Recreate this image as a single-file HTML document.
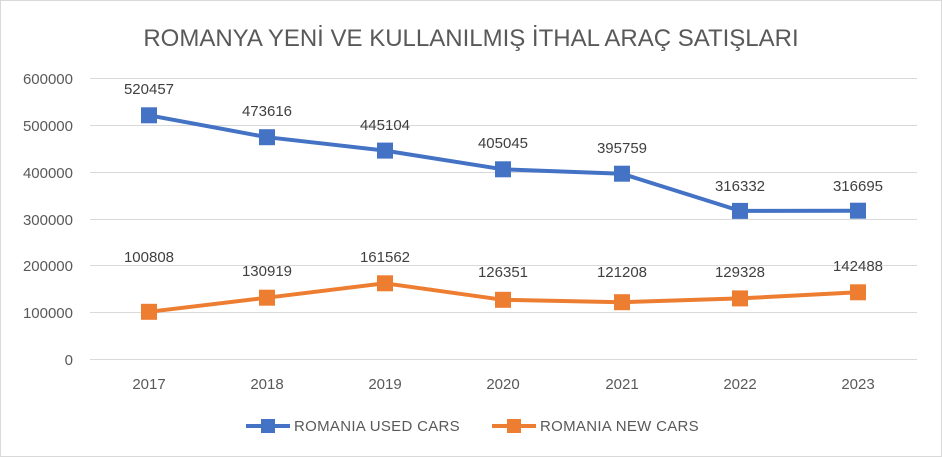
<!DOCTYPE html>
<html><head><meta charset="utf-8"><style>
html,body{margin:0;padding:0;background:#fff;}
svg{display:block;font-family:"Liberation Sans",sans-serif;}
</style></head><body>
<svg width="942" height="457" viewBox="0 0 942 457">
<rect x="0.5" y="0.5" width="941" height="456" fill="#fff" stroke="#d9d9d9"/>
<text x="471" y="46" text-anchor="middle" font-size="24" fill="#595959">ROMANYA YENİ VE KULLANILMIŞ İTHAL ARAÇ SATIŞLARI</text>
<g stroke="#d9d9d9" stroke-width="1">
<line x1="90" x2="917" y1="78.5" y2="78.5"/>
<line x1="90" x2="917" y1="125.5" y2="125.5"/>
<line x1="90" x2="917" y1="172.5" y2="172.5"/>
<line x1="90" x2="917" y1="219.5" y2="219.5"/>
<line x1="90" x2="917" y1="265.5" y2="265.5"/>
<line x1="90" x2="917" y1="312.5" y2="312.5"/>
<line x1="90" x2="917" y1="359.5" y2="359.5"/>
</g>
<g font-size="15" fill="#595959" text-anchor="end">
<text x="73" y="84">600000</text>
<text x="73" y="131">500000</text>
<text x="73" y="178">400000</text>
<text x="73" y="225">300000</text>
<text x="73" y="271">200000</text>
<text x="73" y="318">100000</text>
<text x="73" y="365">0</text>
</g>
<g font-size="15" fill="#595959" text-anchor="middle">
<text x="149" y="389">2017</text><text x="267" y="389">2018</text><text x="385" y="389">2019</text>
<text x="503" y="389">2020</text><text x="622" y="389">2021</text><text x="740" y="389">2022</text><text x="858" y="389">2023</text>
</g>
<polyline fill="none" stroke="#4472c4" stroke-width="4" stroke-linejoin="round" points="149,115.3 267,137.2 385,150.6 503,169.3 622,173.7 740,210.9 858,210.7"/>
<polyline fill="none" stroke="#ed7d31" stroke-width="4" stroke-linejoin="round" points="149,311.8 267,297.7 385,283.3 503,299.8 622,302.2 740,298.4 858,292.3"/>
<g fill="#4472c4">
<rect x="141" y="107.3" width="16" height="16"/><rect x="259" y="129.2" width="16" height="16"/><rect x="377" y="142.6" width="16" height="16"/>
<rect x="495" y="161.3" width="16" height="16"/><rect x="614" y="165.7" width="16" height="16"/><rect x="732" y="202.9" width="16" height="16"/><rect x="850" y="202.7" width="16" height="16"/>
</g>
<g fill="#ed7d31">
<rect x="141" y="303.8" width="16" height="16"/><rect x="259" y="289.7" width="16" height="16"/><rect x="377" y="275.3" width="16" height="16"/>
<rect x="495" y="291.8" width="16" height="16"/><rect x="614" y="294.2" width="16" height="16"/><rect x="732" y="290.4" width="16" height="16"/><rect x="850" y="284.3" width="16" height="16"/>
</g>
<g font-size="15" fill="#404040" text-anchor="middle">
<text x="149" y="94">520457</text><text x="267" y="116">473616</text><text x="385" y="130">445104</text>
<text x="503" y="148">405045</text><text x="622" y="153">395759</text><text x="740" y="191">316332</text><text x="858" y="191">316695</text>
<text x="149" y="262">100808</text><text x="267" y="276">130919</text><text x="385" y="262">161562</text>
<text x="503" y="277">126351</text><text x="622" y="277">121208</text><text x="740" y="277">129328</text><text x="858" y="271">142488</text>
</g>
<line x1="246" x2="290" y1="426" y2="426" stroke="#4472c4" stroke-width="4"/>
<rect x="261" y="419" width="14" height="14" fill="#4472c4"/>
<text x="294" y="431" font-size="15" letter-spacing="0.3" fill="#595959">ROMANIA USED CARS</text>
<line x1="492" x2="536" y1="426" y2="426" stroke="#ed7d31" stroke-width="4"/>
<rect x="507" y="419" width="14" height="14" fill="#ed7d31"/>
<text x="540" y="431" font-size="15" letter-spacing="0.3" fill="#595959">ROMANIA NEW CARS</text>
</svg>
</body></html>
